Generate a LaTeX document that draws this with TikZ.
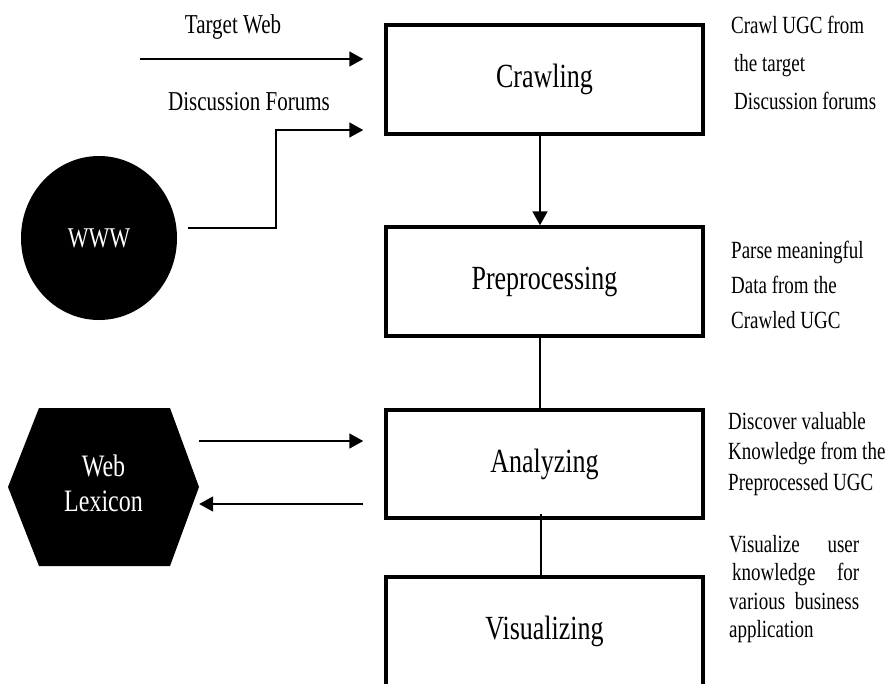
\documentclass[tikz,border=0pt]{standalone}
\usepackage{fontspec}
\setmainfont{Liberation Serif}
\usepackage{graphicx}
\usetikzlibrary{arrows.meta,shapes.geometric}
\newcommand{\vst}[1]{\scalebox{1}[1.3]{#1}}
\begin{document}
\begin{tikzpicture}[x=1pt,y=-1pt,
  stage/.style={draw,line width=3.5pt,minimum width=317pt,minimum height=109pt,inner sep=0pt,font=\fontsize{26}{30}\selectfont},
  conn/.style={line width=1.8pt},
  arr/.style={conn,-{Triangle[length=14pt,width=15pt]}},
  lbl/.style={inner sep=0pt,anchor=base,font=\fontsize{21}{25}\selectfont},
  note/.style={inner sep=0pt,anchor=base west}
]
\useasboundingbox (0,0) rectangle (888,683);

% stages
\node[stage] (crawl) at (544.5,79.5) {\vst{Crawling}};
\node[stage] (pre) at (544.5,281.5) {\vst{Preprocessing}};
\node[stage,minimum height=108pt] (ana) at (544.5,464) {\vst{Analyzing}};
\node[stage] (vis) at (544.5,631.5) {\vst{Visualizing}};

% sources
\node[ellipse,fill=black,minimum width=156pt,minimum height=164pt,inner sep=0pt,
      text=white,font=\fontsize{22}{26}\selectfont] (www) at (99,238) {\vst{WWW}};
\fill (8,487) -- (39,408) -- (170,408) -- (199,487) -- (170,566) -- (39,566) -- cycle;
\node[minimum width=191pt,minimum height=158pt,inner sep=0pt,text=white,
      font=\fontsize{24}{27}\selectfont] (lex) at (103.5,487)
      {\vst{\begin{tabular}{@{}c@{}}Web\\Lexicon\end{tabular}}};

% labels
\node[lbl] (tw) at (233,33) {\vst{Target Web}};
\node[lbl] (df) at (249,110) {\vst{Discussion Forums}};

% notes
\node[note] (n1) at (731,33) {\vst{\fontsize{19}{29.6}\selectfont\begin{tabular}[t]{@{}l@{}}Crawl UGC from\\ \hspace*{3pt}the target\\ \hspace*{3pt}Discussion forums\end{tabular}}};
\node[note] (n2) at (731,258) {\vst{\fontsize{19}{27.3}\selectfont\begin{tabular}[t]{@{}l@{}}Parse meaningful\\ Data from the\\ Crawled UGC\end{tabular}}};
\node[note] (n3) at (728,429) {\vst{\fontsize{19}{23.5}\selectfont\begin{tabular}[t]{@{}l@{}}Discover valuable\\ Knowledge from the\\ Preprocessed UGC\end{tabular}}};
\node[note] (n4) at (729,552) {\vst{\fontsize{19}{22}\selectfont\parbox[t]{130pt}{Visualize\hfill user\\ \hspace*{3pt}knowledge\hfill for\\ various\hfill business\\ application}}};

% connectors
\coordinate (xc) at (540,0);
\coordinate (xd) at (541,0);
\draw[arr] (crawl.south -| xc) -- (pre.north -| xc);
\draw[conn] (pre.south -| xc) -- (ana.north -| xc);
\draw[conn] ([yshift=6pt]ana.south -| xd) -- (vis.north -| xd);

\coordinate (twy) at (140,59);
\draw[arr,shorten >=21pt] (twy) -- (twy -| crawl.west);

\coordinate (bend) at (276,130);
\draw[arr,shorten >=21pt] ([shift={(11pt,10pt)}]www.east) -| (bend) -- (bend -| crawl.west);

\coordinate (la) at (0,441);
\coordinate (lb) at (0,504);
\draw[arr,shorten >=21pt] (lex.east |- la) -- (ana.west |- la);
\draw[arr,shorten <=21pt] (ana.west |- lb) -- (lex.east |- lb);
\end{tikzpicture}
\end{document}
